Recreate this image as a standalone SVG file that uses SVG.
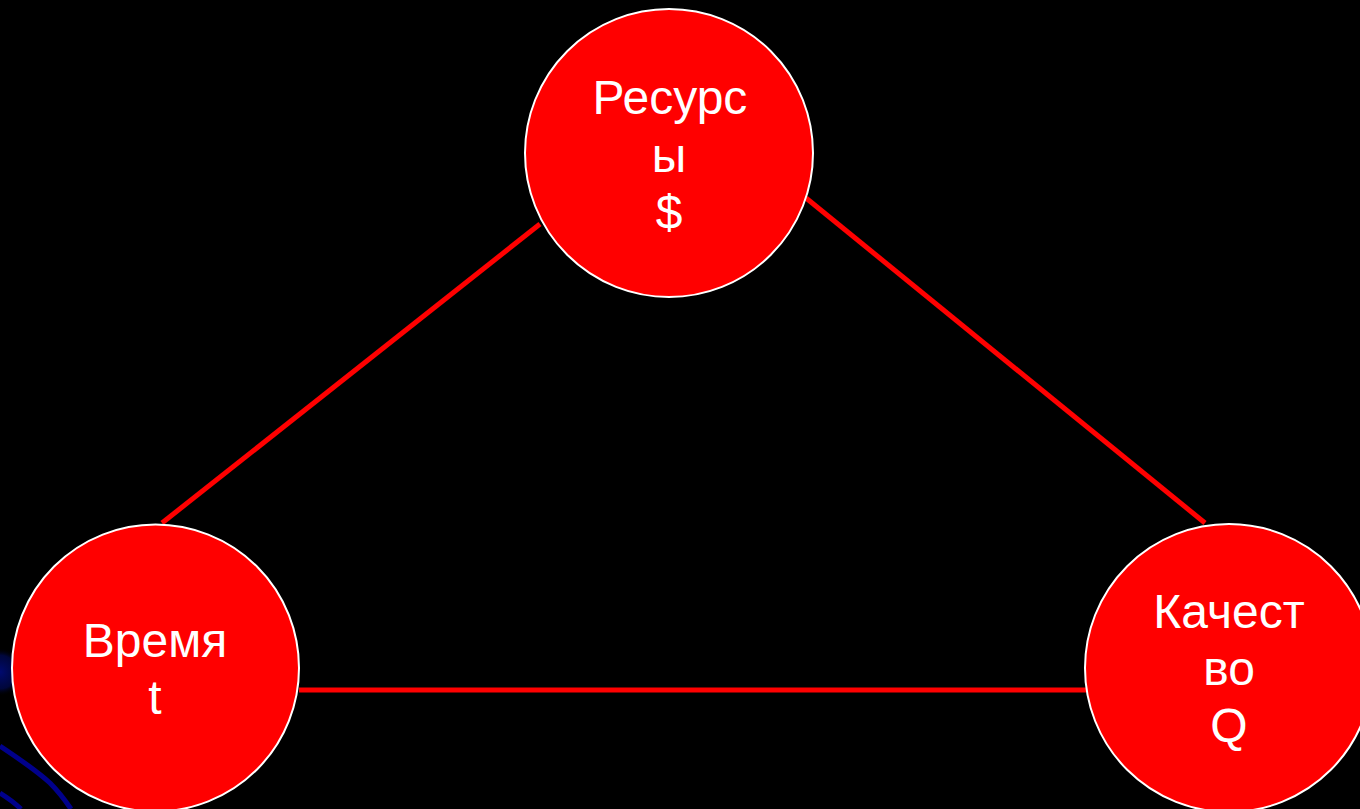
<svg xmlns="http://www.w3.org/2000/svg" width="1360" height="809" viewBox="0 0 1360 809">
<defs>
<radialGradient id="glow" cx="0.5" cy="0.5" r="0.5">
<stop offset="0" stop-color="#000a70" stop-opacity="1"/>
<stop offset="0.7" stop-color="#00084a" stop-opacity="0.8"/>
<stop offset="1" stop-color="#000000" stop-opacity="0"/>
</radialGradient>
</defs>
<style>
.node{fill:#ff0000;stroke:#ffffff;stroke-width:2}
.lbl{fill:#ffffff;font-family:"Liberation Sans",Arial,sans-serif;font-size:48px;text-anchor:middle}
.edge{stroke:#ff0000;stroke-width:5;fill:none}
.deco{stroke:#00008b;stroke-width:5;fill:none}
</style>
<rect x="0" y="0" width="1360" height="809" fill="#000000"/>
<g id="decor">
<circle cx="0" cy="672" r="24" fill="url(#glow)"/>
<path class="deco" d="M0,746 C18,758 36,770 50,783 C58,791 65,800 71,809"/>
<path class="deco" d="M0,793 C8,798 15,803 21,809"/>
</g>
<g id="connectors">
<line class="edge" x1="540" y1="224" x2="162" y2="523"/>
<line class="edge" x1="806" y1="198" x2="1205" y2="523"/>
<line class="edge" x1="299" y1="690" x2="1086" y2="690"/>
</g>
<g id="node-resources">
<circle class="node" cx="669" cy="153" r="144"/>
<text class="lbl" x="670" y="114">Ресурс</text>
<text class="lbl" x="669" y="172">ы</text>
<text class="lbl" x="669" y="229">$</text>
</g>
<g id="node-time">
<circle class="node" cx="155.5" cy="668" r="143.5"/>
<text class="lbl" x="155" y="657">Время</text>
<text class="lbl" x="155" y="714">t</text>
</g>
<g id="node-quality">
<circle class="node" cx="1229" cy="668" r="144"/>
<text class="lbl" x="1229" y="628">Качест</text>
<text class="lbl" x="1229" y="685">во</text>
<text class="lbl" x="1229" y="742">Q</text>
</g>
</svg>
